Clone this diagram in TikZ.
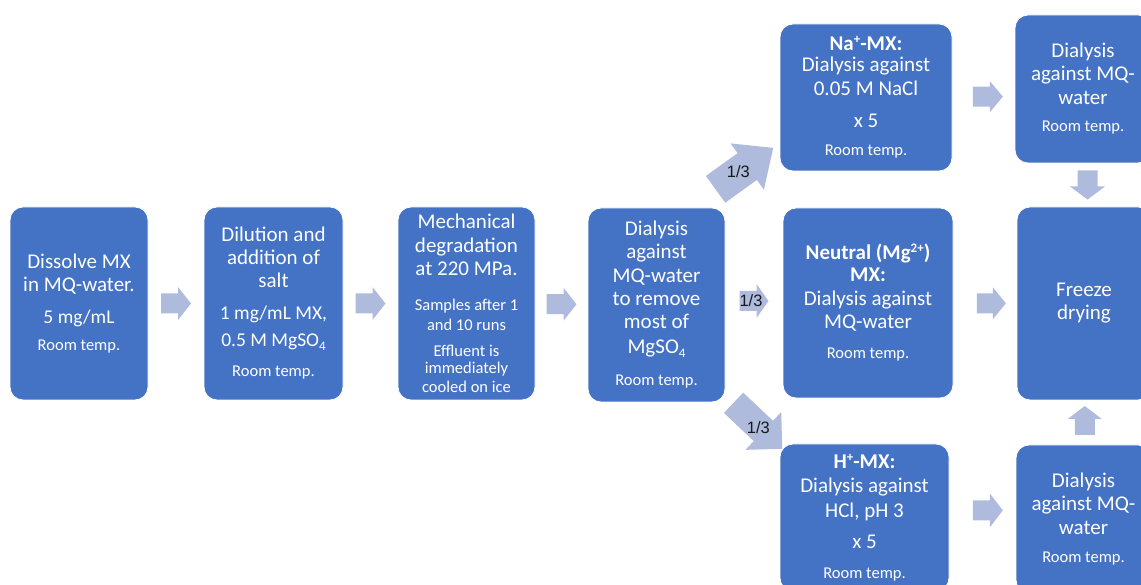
\documentclass[tikz,border=0pt]{standalone}
\usepackage{fontspec}
\setmainfont{Carlito}
\newfontfamily\arialf{Liberation Sans}
\usetikzlibrary{calc}
\definecolor{boxblue}{HTML}{4472C4}
\definecolor{arrowfill}{HTML}{AFBBDD}
\newcommand\smtxt{\fontsize{16.5}{19}\selectfont}
\newcommand\mdtxt{\fontsize{19.5}{23}\selectfont}
\newcommand\subfour{\raisebox{-3.5pt}{\fontsize{13}{13}\selectfont 4}}
\newcommand\supsc[1]{\raisebox{7pt}{\fontsize{13}{13}\selectfont #1}}
\tikzset{
  procbox/.style={rectangle, rounded corners=13pt, fill=boxblue, draw=white, line width=0.8pt,
    text=white, align=center, inner sep=0pt, font=\fontsize{21}{23}\selectfont},
  fraclabel/.style={font=\arialf\fontsize{16.5}{18}\selectfont, text=black!90, inner sep=0pt},
  pics/blkarrow/.style args={#1/#2/#3/#4}{code={
    \fill[arrowfill] (-#1/2,-#3/2) -- (#1/2-#4,-#3/2) -- (#1/2-#4,-#2/2) -- (#1/2,0)
      -- (#1/2-#4,#2/2) -- (#1/2-#4,#3/2) -- (-#1/2,#3/2) -- cycle;
  }},
}
\begin{document}
\begin{tikzpicture}[x=1pt,y=1pt]
\useasboundingbox (0,0) rectangle (1141,585);
\clip (0,0) rectangle (1141,585);

% main row
\node[procbox, minimum width=138pt, minimum height=193pt] (b1) at (79,281.5)
  {Dissolve MX\\in MQ-water.\\[9pt]{\mdtxt 5 mg/mL}\\[4pt]{\smtxt Room temp.}};
\node[procbox, minimum width=139pt, minimum height=193pt] (b2) at (273.5,281.5)
  {Dilution and\\addition of\\salt\\[9pt]{\mdtxt 1 mg/mL MX,}\\[4pt]{\mdtxt 0.5 M MgSO\subfour}\\[7pt]{\smtxt Room temp.}};
\node[procbox, minimum width=137pt, minimum height=193pt] (b3) at (466.5,281.5)
  {Mechanical\\[1pt]degradation\\at 220 MPa.\\[12pt]{\smtxt Samples after 1}\\[-3pt]{\smtxt and 10 runs}\\[3pt]{\smtxt Effluent is}\\[-6pt]{\smtxt immediately}\\[-4pt]{\smtxt cooled on ice}};
\node[procbox, minimum width=137pt, minimum height=194pt] (b4) at (656.5,280)
  {Dialysis\\against\\[1pt]MQ-water\\to remove\\most of\\[2pt]MgSO\subfour\\[9pt]{\smtxt Room temp.}};

% branches
\node[procbox, minimum width=172pt, minimum height=147pt] (na) at (866,487.5)
  {\textbf{Na\supsc{+}-MX:}\\[-2pt]Dialysis against\\[1pt]0.05 M NaCl\\[9pt]x 5\\[5pt]{\smtxt Room temp.}};
\node[procbox, minimum width=170pt, minimum height=190pt] (neu) at (868,282)
  {\textbf{Neutral (Mg\supsc{2+})}\\[-1pt]\textbf{MX:}\\[1pt]Dialysis against\\MQ-water\\[7pt]{\smtxt Room temp.}};
\node[procbox, minimum width=169pt, minimum height=147pt] (hb) at (864.5,67.5)
  {\textbf{H\supsc{+}-MX:}\\[1pt]Dialysis against\\[2pt]HCl, pH 3\\[8pt]x 5\\[7pt]{\smtxt Room temp.}};

% right column
\node[procbox, minimum width=136pt, minimum height=148pt] (dtop) at (1083,496)
  {Dialysis\\against MQ-\\[1pt]water\\[4pt]{\smtxt Room temp.}};
\node[procbox, minimum width=134pt, minimum height=193pt] (frz) at (1084,281.5)
  {Freeze\\drying};
\node[procbox, minimum width=135pt, minimum height=148pt] (dbot) at (1083.5,66)
  {Dialysis\\against MQ-\\[1pt]water\\[5pt]{\smtxt Room temp.}};

% block arrows
\pic at ($(b1.east)!0.5!(b2.west)$) {blkarrow=30/33/20/13};
\pic at ($(b2.east)!0.5!(b3.west)$) {blkarrow=30/33/20/13};
\pic at ($(b3.east)!0.5!(b4.west)$) {blkarrow=30/33/20/13};
\pic at ([yshift=3pt]$(b4.east)!0.5!(neu.west)$) {blkarrow=29/34/20/12};
\pic at ($(neu.east)!0.6!(frz.west)$) {blkarrow=29/32/20/13};
\pic at ([yshift=-4pt]$(na.east)!0.57!(dtop.west)$) {blkarrow=30/31/20/13};
\pic at ([yshift=8pt]$(hb.east)!0.58!(dbot.west)$) {blkarrow=30/34/20/13};
\pic[rotate=-90] at ([xshift=4pt]$(dtop.south)!0.5!(frz.north)$) {blkarrow=29/35/20/13};
\pic[rotate=90] at ([xshift=1pt,yshift=2pt]$(frz.south)!0.5!(dbot.north)$) {blkarrow=29/34/20/13};
\pic[rotate=35.7] at ([shift={(19,39)}]b4.north east) {blkarrow=71/57/33/32};
\pic[rotate=-43.4] at ([shift={(32.5,-23.4)}]b4.south east) {blkarrow=67/52/28/26};

% fraction labels
\node[fraclabel] (f1) at ([shift={(13,36)}]b4.north east) {1/3};
\node[fraclabel] (f2) at ([xshift=-3pt,yshift=3pt]$(b4.east)!0.5!(neu.west)$) {1/3};
\node[fraclabel] (f3) at ([shift={(33,-25)}]b4.south east) {1/3};
\end{tikzpicture}
\end{document}
